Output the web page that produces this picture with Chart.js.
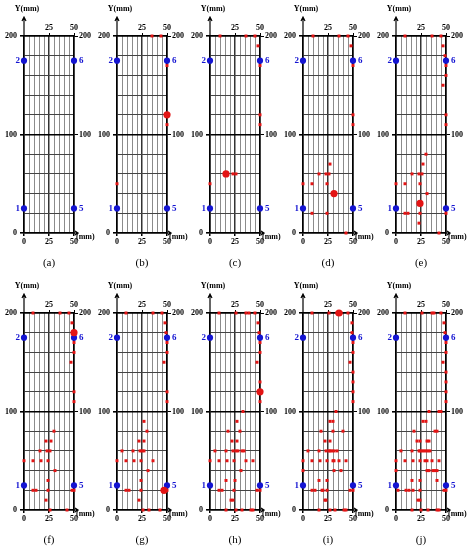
<!DOCTYPE html>
<html>
<head>
<meta charset="utf-8">
<script src="https://cdn.jsdelivr.net/npm/chart.js@4.4.1/dist/chart.umd.min.js"></script>
<style>
  html, body { margin: 0; padding: 0; background: #fff; overflow: hidden; }
  #wrap { position: relative; width: 468px; height: 550px; overflow: hidden; }
  #wrap canvas { position: absolute; }
</style>
</head>
<body>
<div id="wrap"></div>
<script>
// fixed anchor points 1, 2, 5, 6
const anchorX = [0, 0, 50, 50]
const anchorY = [25, 175, 25, 175]
const anchorNames = ['1', '2', '5', '6']

// tick labels
const xBottomLabels = [0, 25, 50]
const xTopLabels = [25, 50]
const yLeftLabels = [0, 100, 200]
const yRightLabels = [100, 200]

const panelNames = ['(a)', '(b)', '(c)', '(d)', '(e)', '(f)', '(g)', '(h)', '(i)', '(j)']

// small red marks [x, y] in mm, and the large red mark of each panel
const smallA = []
const bigA = null

const smallB = [[35,200],[44,200],[50,170],[50,110],[0,50]]
const bigB = [50,120]

const smallC = [[10,200],[36,200],[45,200],[48,190],[50,170],[50,120],[50,110],[23,60],[26,60],[0,50]]
const bigC = [16,60]

const smallD = [[10,200],[36,200],[45,200],[48,190],[50,170],[50,120],[50,110],[27,70],[16,60],[23,60],[26,60],
  [0,50],[9,50],[24,50],[9,20],[24,20],[43,0]]
const bigD = [31,40]

const smallE = [[9,200],[36,200],[45,200],[47,190],[49,180],[50,170],[50,160],[47,150],[50,120],[50,110],[30,80],
  [27,70],[16,60],[23,60],[26,60],[0,50],[9,50],[24,50],[31,40],[9,20],[12,20],[24,20],[50,20],[23,10],[43,0]]
const bigE = [24,30]

const smallF = [[9,200],[36,200],[45,200],[48,190],[50,170],[50,160],[47,150],[50,120],[50,110],[30,80],[22,70],
  [27,70],[16,60],[23,60],[26,60],[0,50],[9,50],[17,50],[24,50],[31,40],[24,30],[9,20],[12,20],[24,20],[48,20],
  [50,20],[22,10],[26,0],[43,0]]
const bigF = [50,180]

const smallG = [[9,200],[36,200],[45,200],[48,190],[49,180],[50,170],[50,160],[47,150],[50,120],[50,110],[27,90],
  [30,80],[22,70],[27,70],[5,60],[16,60],[23,60],[25,60],[27,60],[0,50],[9,50],[17,50],[24,50],[36,50],[31,40],
  [24,30],[9,20],[12,20],[24,20],[50,20],[22,10],[26,0],[32,0],[43,0]]
const bigG = [47,20]

const smallH = [[9,200],[26,200],[36,200],[39,200],[45,200],[48,190],[49,180],[50,170],[50,160],[47,150],[50,130],
  [50,110],[33,100],[27,90],[18,80],[30,80],[22,70],[27,70],[5,60],[16,60],[23,60],[26,60],[28,60],[32,60],
  [34,60],[0,50],[9,50],[17,50],[24,50],[36,50],[43,50],[31,40],[16,30],[25,30],[9,20],[12,20],[24,20],[47,20],
  [50,20],[21,10],[23,10],[16,0],[26,0],[32,0],[41,0],[43,0]]
const bigH = [50,120]

const smallI = [[9,200],[26,200],[34,200],[38,200],[45,200],[49,190],[49,180],[50,170],[50,160],[47,150],[50,140],
  [50,130],[50,120],[50,110],[33,100],[27,90],[30,90],[18,80],[30,80],[40,80],[22,70],[27,70],[5,60],[16,60],
  [23,60],[26,60],[27,60],[29,60],[31,60],[34,60],[0,50],[9,50],[17,50],[24,50],[30,50],[31,50],[36,50],[43,50],
  [0,40],[31,40],[38,40],[16,30],[24,30],[9,20],[12,20],[19,20],[20,20],[24,20],[47,20],[50,20],[22,10],[23,10],
  [16,0],[27,0],[32,0],[41,0],[43,0]]
const bigI = [36,200]

const smallJ = [[9,200],[26,200],[36,200],[38,200],[45,200],[48,190],[49,180],[50,170],[50,160],[47,150],[50,140],
  [50,130],[50,120],[50,110],[33,100],[43,100],[45,100],[27,90],[30,90],[18,80],[39,80],[41,80],[21,70],[24,70],
  [31,70],[33,70],[5,60],[16,60],[23,60],[24,60],[26,60],[28,60],[30,60],[32,60],[34,60],[0,50],[9,50],[17,50],
  [24,50],[29,50],[31,50],[36,50],[43,50],[0,40],[31,40],[33,40],[37,40],[39,40],[41,40],[16,30],[24,30],[41,30],
  [2,20],[10,20],[13,20],[17,20],[24,20],[48,20],[50,20],[22,10],[24,10],[16,0],[25,0],[32,0],[41,0],[43,0]]
const bigJ = null

const smallSets = [smallA, smallB, smallC, smallD, smallE, smallF, smallG, smallH, smallI, smallJ]
const bigSets = [bigA, bigB, bigC, bigD, bigE, bigF, bigG, bigH, bigI, bigJ]

const SERIF = '"Liberation Serif", "Times New Roman", serif'
const RED = '#e31414'
const BLUE = '#1414d2'
const CLEAR = 'rgba(0,0,0,0)'

// arrows, axis names, anchor numbers
const decor = {
    id: 'decor',
    afterDraw(chart) {
        const ctx = chart.ctx
        const a = chart.chartArea
        ctx.save()
        ctx.strokeStyle = '#000'
        ctx.fillStyle = '#000'
        ctx.lineWidth = 1.2
        ctx.beginPath()
        ctx.moveTo(a.left, a.top)
        ctx.lineTo(a.left, 17)
        ctx.moveTo(a.left - 2, 21)
        ctx.lineTo(a.left, 17)
        ctx.lineTo(a.left + 2, 21)
        ctx.moveTo(a.right, a.bottom)
        ctx.lineTo(a.right + 4, a.bottom)
        ctx.moveTo(a.right + 1, a.bottom - 2)
        ctx.lineTo(a.right + 4, a.bottom)
        ctx.lineTo(a.right + 1, a.bottom + 2)
        ctx.stroke()
        ctx.font = 'bold 8px ' + SERIF
        ctx.textBaseline = 'middle'
        ctx.textAlign = 'center'
        ctx.fillText('Y(mm)', a.left + 3, 9)
        ctx.textAlign = 'left'
        ctx.fillText('(mm)', a.right + 2, a.bottom + 4)

        // numbers beside the blue points
        const meta = chart.getDatasetMeta(2)
        ctx.fillStyle = BLUE
        ctx.font = 'bold 9px ' + SERIF
        meta.data.forEach((pt, i) => {
            if (anchorX[i] === 0) {
                ctx.textAlign = 'right'
                ctx.fillText(anchorNames[i], pt.x - 4, pt.y)
            } else {
                ctx.textAlign = 'left'
                ctx.fillText(anchorNames[i], pt.x + 5, pt.y)
            }
        })
        ctx.restore()
    }
}

function vColor(v) {
    if (v === 0 || v === 50) return '#000'
    if (v === 25) return '#333'
    return '#8c8c8c'
}
function hColor(v) {
    if (v % 100 === 0) return '#000'
    return '#444'
}
const tickFont = { family: SERIF, size: 8, weight: 'bold' }

function makeChart(idx, left, top) {
    const canvas = document.createElement('canvas')
    canvas.width = 100
    canvas.height = 270
    canvas.style.left = left + 'px'
    canvas.style.top = top + 'px'
    document.getElementById('wrap').appendChild(canvas)

    const datasets = []
    datasets.push({
        data: bigSets[idx] ? [{ x: bigSets[idx][0], y: bigSets[idx][1] }] : [],
        pointRadius: 3.6, pointStyle: 'circle',
        backgroundColor: RED, borderWidth: 0, clip: false
    })
    datasets.push({
        data: smallSets[idx].map(p => ({ x: p[0], y: p[1] })),
        pointRadius: 2.1, pointStyle: 'rect',
        backgroundColor: RED, borderWidth: 0, clip: false
    })
    datasets.push({
        data: anchorX.map((x, i) => ({ x: x, y: anchorY[i] })),
        pointRadius: 3.1, pointStyle: 'circle',
        backgroundColor: BLUE, borderWidth: 0, clip: false
    })

    new Chart(canvas, {
        type: 'scatter',
        data: { datasets: datasets },
        options: {
            responsive: false,
            animation: false,
            devicePixelRatio: 1,
            layout: { padding: 0 },
            plugins: { legend: { display: false }, tooltip: { enabled: false } },
            scales: {
                x: {
                    type: 'linear', position: 'bottom', min: 0, max: 50,
                    afterFit: s => { s.height = 37 },
                    ticks: {
                        stepSize: 5, autoSkip: false, maxRotation: 0, padding: 1, color: '#000', font: tickFont,
                        callback: v => xBottomLabels.includes(v) ? v : ''
                    },
                    grid: {
                        color: c => vColor(c.tick.value),
                        lineWidth: c => (c.tick.value % 25 === 0 ? 1.5 : 1),
                        tickLength: 3,
                        tickColor: c => xBottomLabels.includes(c.tick.value) ? '#000' : CLEAR
                    },
                    border: { color: '#000', width: 1.5 },
                    title: {
                        display: true, text: panelNames[idx], color: '#000',
                        font: { family: SERIF, size: 11 }, padding: { top: 0, bottom: 0 }
                    }
                },
                xTop: {
                    type: 'linear', position: 'top', min: 0, max: 50,
                    afterFit: s => { s.height = 36 },
                    ticks: {
                        stepSize: 5, autoSkip: false, maxRotation: 0, padding: 0, color: '#000', font: tickFont,
                        callback: v => xTopLabels.includes(v) ? v : ''
                    },
                    grid: {
                        drawOnChartArea: false, tickLength: 3,
                        tickColor: c => xTopLabels.includes(c.tick.value) ? '#000' : CLEAR
                    },
                    border: { color: '#000', width: 1.5 }
                },
                y: {
                    type: 'linear', position: 'left', min: 0, max: 200,
                    afterFit: s => { s.width = 24 },
                    ticks: {
                        stepSize: 20, autoSkip: false, padding: 3, color: '#000', font: tickFont,
                        callback: v => yLeftLabels.includes(v) ? v : ''
                    },
                    grid: {
                        color: c => hColor(c.tick.value),
                        lineWidth: c => (c.tick.value % 100 === 0 ? 1.6 : 1),
                        tickLength: 4,
                        tickColor: c => yLeftLabels.includes(c.tick.value) ? '#000' : CLEAR
                    },
                    border: { color: '#000', width: 1.5 }
                },
                yRight: {
                    type: 'linear', position: 'right', min: 0, max: 200,
                    afterFit: s => { s.width = 26 },
                    ticks: {
                        stepSize: 20, autoSkip: false, padding: 1, color: '#000', font: tickFont,
                        callback: v => yRightLabels.includes(v) ? v : ''
                    },
                    grid: {
                        drawOnChartArea: false, tickLength: 4,
                        tickColor: c => yRightLabels.includes(c.tick.value) ? '#000' : CLEAR
                    },
                    border: { color: '#000', width: 1.5 }
                }
            }
        },
        plugins: [decor]
    })
}

document.addEventListener('DOMContentLoaded', function () {
    const lefts = [0, 93, 186, 279, 372]
    for (let i = 0; i < 10; i++) {
        makeChart(i, lefts[i % 5], i < 5 ? 0 : 277)
    }
})
</script>
</body>
</html>
